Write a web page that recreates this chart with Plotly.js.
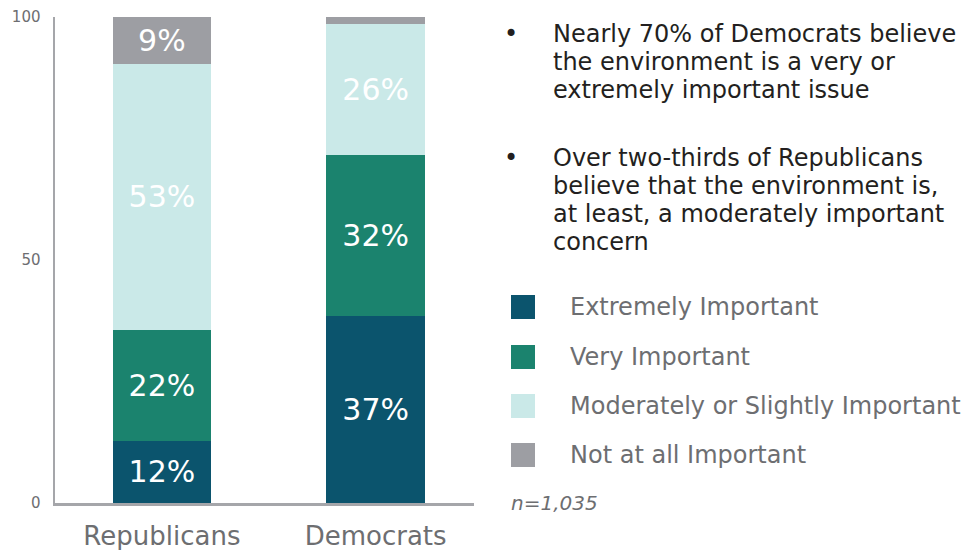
<!DOCTYPE html>
<html>
<head>
<meta charset="utf-8">
<script src="https://cdn.plot.ly/plotly-3.0.1.min.js"></script>
<style>
  html, body { margin: 0; padding: 0; background: #ffffff; }
  #chart { width: 968px; height: 550px; }
</style>
</head>
<body>
<div id="chart"></div>
<script>
// ---- data ----
const categories = ["Republicans", "Democrats"];
const seriesNames = ["Extremely Important", "Very Important", "Moderately or Slightly Important", "Not at all Important"];
const extremelyImportant = [12.8, 38.5];
const veryImportant = [22.9, 33.1];
const moderatelyImportant = [54.6, 27.0];
const notImportant = [9.7, 1.4];
const extremelyLabels = ["12%", "37%"];
const veryLabels = ["22%", "32%"];
const moderatelyLabels = ["53%", "26%"];
const notLabels = ["9%", ""];
const yTicks = [0, 50, 100];
const bulletPoints = [
  ["Nearly 70% of Democrats believe", "the environment is a very or", "extremely important issue"],
  ["Over two-thirds of Republicans", "believe that the environment is,", "at least, a moderately important", "concern"]
];
const sampleNote = "n=1,035";

// ---- styles ----
const colors = ["#0b546d", "#1b836e", "#cae9e8", "#9d9ea3"];
const FONT = "DejaVu Sans, Verdana, sans-serif";
const W = 968, H = 550;
const M = {l: 55, r: 494, t: 17, b: 47};
const pw = W - M.l - M.r, ph = H - M.t - M.b;
const px = x => (x - M.l) / pw;
const py = y => (H - M.b - y) / ph;

const values = [extremelyImportant, veryImportant, moderatelyImportant, notImportant];
const labels = [extremelyLabels, veryLabels, moderatelyLabels, notLabels];

const traces = values.map((v, i) => ({
  type: "bar",
  name: seriesNames[i],
  x: categories,
  y: v,
  text: labels[i],
  textposition: "inside",
  insidetextanchor: "middle",
  constraintext: "none",
  textfont: {family: FONT, size: 30, color: "#ffffff"},
  marker: {color: colors[i], line: {width: 0}},
  width: 0.46,
  hoverinfo: "none",
  showlegend: false
}));

const annotations = [];
const shapes = [];

// bullet points
const blockLineY = [[33.6, 61.6, 89.6], [158, 186, 214, 242]];
bulletPoints.forEach((lines, b) => {
  annotations.push({
    xref: "paper", yref: "paper", x: px(511), y: py(blockLineY[b][0]),
    xanchor: "center", yanchor: "middle", showarrow: false,
    text: "\u2022", font: {family: FONT, size: 24, color: "#231f20"}
  });
  lines.forEach((t, k) => {
    annotations.push({
      xref: "paper", yref: "paper", x: px(551), y: py(blockLineY[b][k]),
      xanchor: "left", yanchor: "middle", showarrow: false, align: "left",
      text: t, font: {family: FONT, size: 24, color: "#231f20"}
    });
  });
});

// legend
const legendY = [307, 357, 406, 455];
seriesNames.forEach((name, i) => {
  shapes.push({
    type: "rect", xref: "paper", yref: "paper",
    x0: px(511), x1: px(535), y0: py(legendY[i] - 12), y1: py(legendY[i] + 12),
    fillcolor: colors[i], line: {width: 0}
  });
  annotations.push({
    xref: "paper", yref: "paper", x: px(568), y: py(legendY[i]),
    xanchor: "left", yanchor: "middle", showarrow: false,
    text: name, font: {family: FONT, size: 24, color: "#6d6e71"}
  });
});

annotations.push({
  xref: "paper", yref: "paper", x: px(509), y: py(503),
  xanchor: "left", yanchor: "middle", showarrow: false,
  text: "<i>" + sampleNote + "</i>", font: {family: FONT, size: 20, color: "#6d6e71"}
});

const layout = {
  width: W, height: H,
  margin: M,
  barmode: "stack",
  bargap: 0.5,
  paper_bgcolor: "#ffffff",
  plot_bgcolor: "#ffffff",
  showlegend: false,
  font: {family: FONT},
  xaxis: {
    type: "category",
    range: [-0.5, 1.46],
    showline: true, linecolor: "#a5a6aa", linewidth: 2.5,
    ticks: "", showgrid: false, zeroline: false,
    tickfont: {family: FONT, size: 26, color: "#6d6e71"},
    ticklabelstandoff: 8,
    fixedrange: true
  },
  yaxis: {
    range: [0, 100],
    tickvals: yTicks,
    showline: true, linecolor: "#a5a6aa", linewidth: 2.5,
    ticks: "", showgrid: false, zeroline: false,
    tickfont: {family: FONT, size: 15, color: "#6d6e71"},
    ticklabelstandoff: 9,
    fixedrange: true
  },
  annotations: annotations,
  shapes: shapes
};

Plotly.newPlot("chart", traces, layout, {displayModeBar: false, staticPlot: true});
</script>
</body>
</html>
